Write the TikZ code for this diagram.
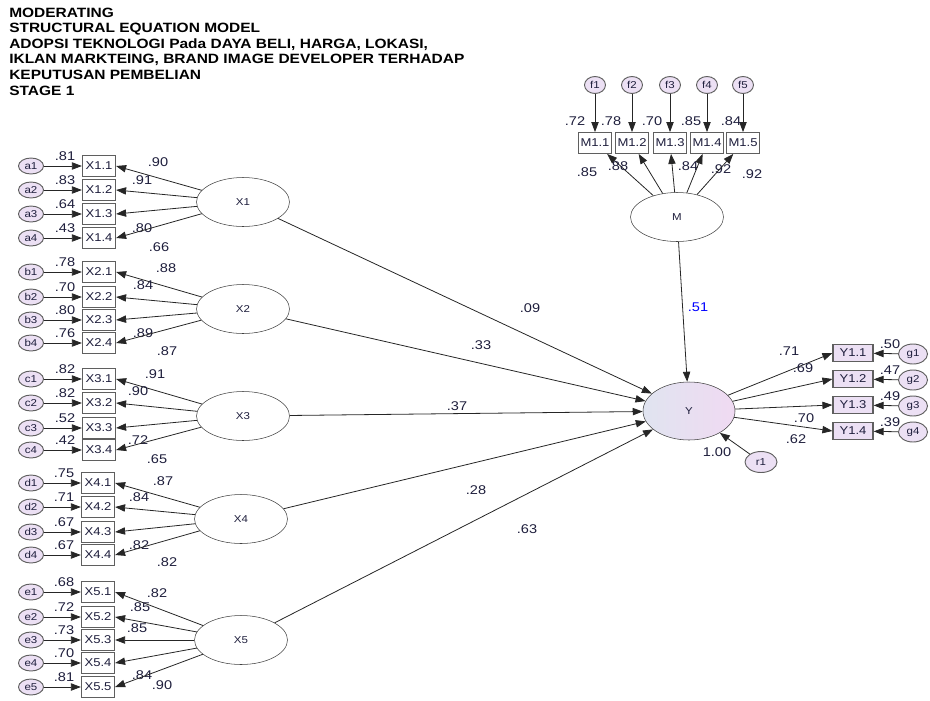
\documentclass[tikz,border=0pt]{standalone}
\usepackage{fontspec}
\setmainfont{Liberation Sans}[FakeStretch=1.15]
\usetikzlibrary{arrows.meta,shapes.geometric}
\definecolor{lilac}{RGB}{236,224,244}
\definecolor{ink}{RGB}{30,30,60}
\definecolor{rim}{RGB}{95,95,95}
\definecolor{ygray}{RGB}{224,228,240}
\definecolor{ypink}{RGB}{240,218,242}
\tikzset
{
    % Style for a latent variable (the big ellipses)
    latent/.style=
    {
        draw=black!75,
        thin,
        shape=ellipse,
        inner sep=0pt,
        minimum width=69.75pt,
        minimum height=36.75pt,
        text=ink,
        font=\fontsize{7.5}{8}\selectfont
    },
    % Style for the dependent latent variable
    outcome/.style=
    {
        latent,
        minimum width=69pt,
        minimum height=43.5pt,
        left color=ygray,
        right color=ypink
    },
    % Style for an observed indicator
    observed/.style=
    {
        draw=rim,
        line width=0.9pt,
        fill=white,
        inner sep=0pt,
        minimum width=24.75pt,
        minimum height=15.5pt,
        text=ink,
        font=\fontsize{8.5}{9}\selectfont
    },
    % Style for an indicator of the outcome
    yobserved/.style=
    {
        observed,
        fill=lilac,
        minimum width=30pt,
        minimum height=12.75pt
    },
    % Style for the error terms
    error/.style=
    {
        draw=rim,
        line width=0.7pt,
        fill=lilac,
        shape=ellipse,
        inner sep=0pt,
        minimum width=18.75pt,
        minimum height=12pt,
        text=ink,
        font=\fontsize{7.5}{8}\selectfont
    },
    % Style for the paths
    path/.style=
    {
        draw=black!85,
        line width=0.6pt,
        -{Triangle[length=7.5pt,width=5.5pt]}
    },
    % Style for the estimates
    coef/.style=
    {
        inner sep=0pt,
        text=ink,
        font=\fontsize{9.5}{10}\selectfont
    }
}

\begin{document}
\begin{tikzpicture}[x=0.75pt,y=-0.75pt]
    % Define the bounding box, one unit is one pixel of the picture
    \path [use as bounding box] (0,0) rectangle (930,700);

    % Title
    \node (title) [anchor=north west,inner sep=0pt,align=left,
                   font=\bfseries\fontsize{10.1}{11.7}\selectfont] at (9,7.5)
        {MODERATING\\
         STRUCTURAL EQUATION MODEL\\
         ADOPSI TEKNOLOGI Pada DAYA BELI, HARGA, LOKASI,\\
         IKLAN MARKTEING, BRAND IMAGE DEVELOPER TERHADAP\\
         KEPUTUSAN PEMBELIAN\\
         STAGE 1};

    % Draw latent variables
    \node (X1) [latent] at (243,202) {X1};
    \node (X2) [latent] at (243,309) {X2};
    \node (X3) [latent] at (243,416) {X3};
    \node (X4) [latent] at (241,519) {X4};
    \node (X5) [latent] at (241,640) {X5};
    \node (M)  [latent] at (677,217) {M};
    \node (Y)  [outcome] at (689,411) {Y};

    % X1 block
    %% Indicators with their errors
    \foreach \n/\y/\r in {1/166/.81, 2/190/.83, 3/214/.64, 4/238/.43}
    {
        \node (a\n) [error] at (31,\y) {a\n};
        \node (x1\n) [observed] at (99,\y) {X1.\n};
        \draw [path] (a\n) -- (x1\n);
        \node [coef] at (65,\y-10) {\r};
    }
    %% Loadings
    \foreach \n/\lx/\ly/\l in {1/158/162/.90, 2/142/180/.91, 3/142/228/.80, 4/159/247/.66}
    {
        \draw [path] (X1) -- (x1\n.east);
        \node [coef] at (\lx,\ly) {\l};
    }

    % X2 block
    \foreach \n/\y/\r in {1/272/.78, 2/297/.70, 3/320/.80, 4/343/.76}
    {
        \node (b\n) [error] at (31,\y) {b\n};
        \node (x2\n) [observed] at (99,\y) {X2.\n};
        \draw [path] (b\n) -- (x2\n);
        \node [coef] at (65,\y-10) {\r};
    }
    \foreach \n/\lx/\ly/\l in {1/166/268/.88, 2/143/285/.84, 3/143/333/.89, 4/167/351/.87}
    {
        \draw [path] (X2) -- (x2\n.east);
        \node [coef] at (\lx,\ly) {\l};
    }

    % X3 block
    \foreach \n/\y/\r in {1/379/.82, 2/403/.82, 3/428/.52, 4/450/.42}
    {
        \node (c\n) [error] at (31,\y) {c\n};
        \node (x3\n) [observed] at (99,\y) {X3.\n};
        \draw [path] (c\n) -- (x3\n);
        \node [coef] at (65,\y-10) {\r};
    }
    \foreach \n/\lx/\ly/\l in {1/155/374/.91, 2/138/391/.90, 3/138/440/.72, 4/157/459/.65}
    {
        \draw [path] (X3) -- (x3\n.east);
        \node [coef] at (\lx,\ly) {\l};
    }

    % X4 block
    \foreach \n/\y/\r in {1/483/.75, 2/507/.71, 3/532/.67, 4/555/.67}
    {
        \node (d\n) [error] at (31,\y) {d\n};
        \node (x4\n) [observed] at (98,\y) {X4.\n};
        \draw [path] (d\n) -- (x4\n);
        \node [coef] at (64,\y-10) {\r};
    }
    \foreach \n/\lx/\ly/\l in {1/163/481/.87, 2/139/497/.84, 3/139/545/.82, 4/167/562/.82}
    {
        \draw [path] (X4) -- (x4\n.east);
        \node [coef] at (\lx,\ly) {\l};
    }

    % X5 block
    \foreach \n/\y/\r in {1/592/.68, 2/617/.72, 3/640/.73, 4/663/.70, 5/687/.81}
    {
        \node (e\n) [error] at (31,\y) {e\n};
        \node (x5\n) [observed] at (98,\y) {X5.\n};
        \draw [path] (e\n) -- (x5\n);
        \node [coef] at (64,\y-10) {\r};
    }
    \foreach \n/\lx/\ly/\l in {1/157/593/.82, 2/140/607/.85, 3/137/628/.85, 4/142/675/.84, 5/162/685/.90}
    {
        \draw [path] (X5) -- (x5\n.east);
        \node [coef] at (\lx,\ly) {\l};
    }

    % M block
    %% Indicators on top, errors above them
    \foreach \n/\x/\rx/\r/\lx/\ly/\l in {1/595/575/.72/587/172/.85, 2/632/611/.78/618/166/.88,
        3/670/652/.70/688/166/.84, 4/707/691/.85/721/169/.92, 5/743/731/.84/752/174/.92}
    {
        \node (f\n) [error,minimum width=15.75pt,minimum height=12.75pt] at (\x,85) {f\n};
        \node (m\n) [observed] at (\x,143) {M1.\n};
        \draw [path] (f\n) -- (m\n);
        \draw [path] (M) -- (m\n);
        \node [coef] at (\rx,121) {\r};
        \node [coef] at (\lx,\ly) {\l};
    }

    % Y block
    \foreach \n/\y/\lx/\ly/\l/\r in {1/353/789/351/.71/.50, 2/379/803/368/.69/.47,
        3/405/804/418/.70/.49, 4/431/796/439/.62/.39}
    {
        \node (y\n) [yobserved] at (853,\y) {Y1.\n};
        \node (g\n) [error,minimum width=21.75pt,minimum height=15pt] at (913,\y+1) {g\n};
        \draw [path] (g\n) -- (y\n);
        \draw [path] (Y) -- (y\n.west);
        \node [coef] at (\lx,\ly) {\l};
        \node [coef] at (890,\y-9) {\r};
    }
    %% Residual of Y
    \node (r1) [error,minimum width=24pt,minimum height=15.75pt] at (761,462) {r1};
    \draw [path] (r1) -- (Y);
    \node [coef] at (717,452) {1.00};

    % Structural paths
    \draw [path] (X1) -- (Y);
    \draw [path] (X2) -- (Y);
    \draw [path] (X3) -- (Y);
    \draw [path] (X4) -- (Y);
    \draw [path] (X5) -- (Y);
    \draw [path] (M) -- (Y);
    %% Estimates
    \node [coef] at (530,308) {.09};
    \node [coef] at (481,345) {.33};
    \node [coef] at (457,406) {.37};
    \node [coef] at (476,490) {.28};
    \node [coef] at (527,529) {.63};
    \node [coef,text=blue] at (698,307) {.51};
\end{tikzpicture}
\end{document}
